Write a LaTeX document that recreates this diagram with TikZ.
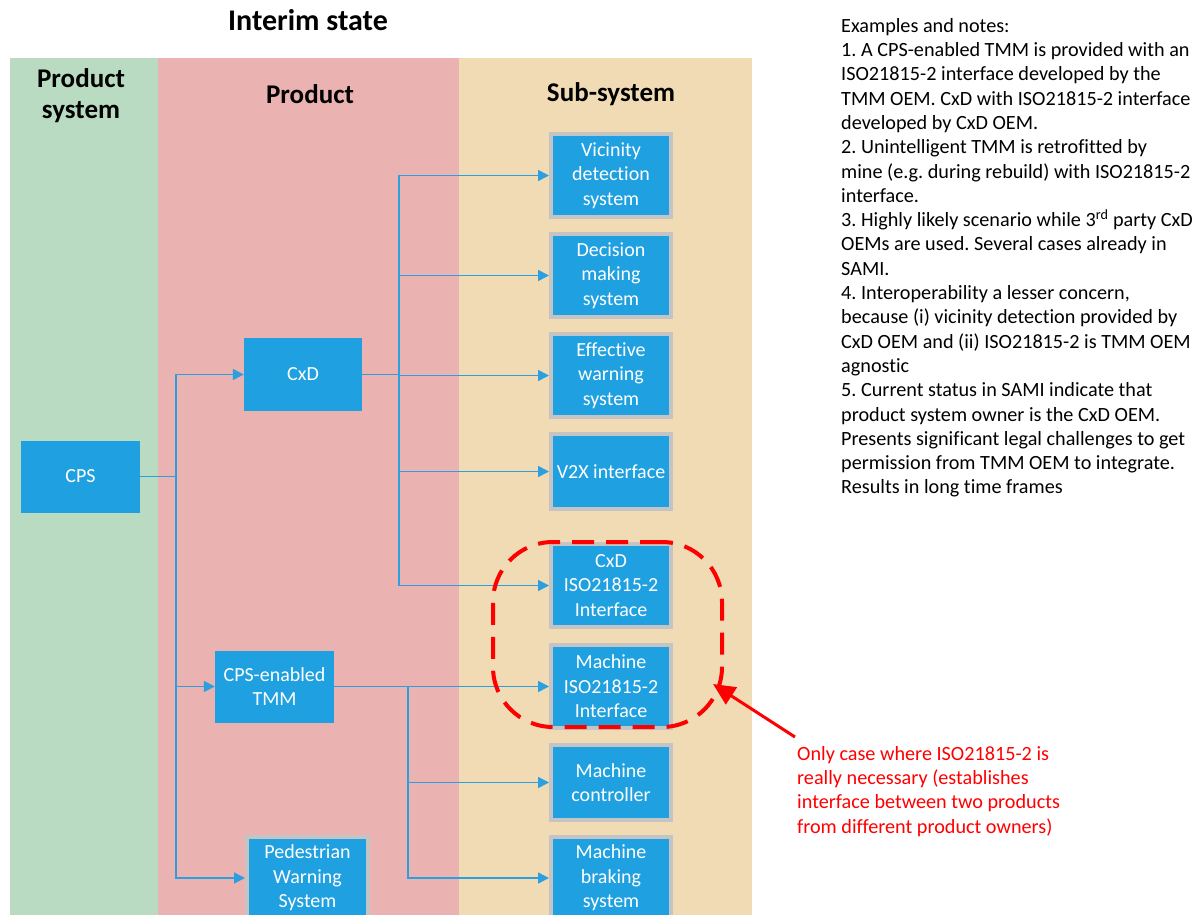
\documentclass[tikz,border=0pt]{standalone}
\usepackage{fontspec}
\setmainfont[Ligatures=NoCommon]{Carlito}
\usetikzlibrary{arrows.meta}
\definecolor{cgreen}{HTML}{B8DBC1}
\definecolor{cpink}{HTML}{EAB2B1}
\definecolor{ctan}{HTML}{F0DBB5}
\definecolor{cblue}{HTML}{1FA0E0}
\definecolor{cline}{HTML}{2C9FE0}
\definecolor{cgray}{HTML}{C4C4C4}
\definecolor{cred}{HTML}{FF0000}
\frenchspacing
\begin{document}
\begin{tikzpicture}[x=1pt,y=-1pt,
  hdr/.style={font=\bfseries\fontsize{27}{31}\selectfont, align=center, inner sep=0pt},
  box/.style={fill=cblue, text=white, align=center, inner sep=0pt,
     font=\fontsize{20}{24.4}\selectfont, minimum width=119, minimum height=72},
  sub/.style={box, draw=cgray, line width=4, minimum width=120, minimum height=83},
  conn/.style={draw=cline, line width=1.5},
  arr/.style={conn, -{Triangle[length=11pt,width=11pt]}},
  notes/.style={font=\fontsize{20.2}{24.3}\selectfont, align=left, inner sep=0pt, anchor=north west}
]
\clip (0,0) rectangle (1200,915);
\fill[white] (0,0) rectangle (1200,915);
% columns
\fill[cgreen] (10,58) rectangle (158,915);
\fill[cpink] (158,58) rectangle (459,915);
\fill[ctan] (459,58) rectangle (752,915);
% headers
\node[hdr, font=\bfseries\fontsize{30}{34}\selectfont] (title) at (308,20) {Interim state};
\node[hdr] (hps) at (81,95.5) {Product\\system};
\node[hdr] (hp) at (310,94) {Product};
\node[hdr] (hs) at (611,94) {Sub-system};
% product system / product boxes
\node[box] (cps) at (80.5,476.5) {CPS};
\node[box, minimum width=118, minimum height=73] (cxd) at (303,374.5) {CxD};
\node[box] (tmm) at (274.5,686.5) {CPS-enabled\\TMM};
\node[sub, minimum width=121] (ped) at (307.5,878) {Pedestrian\\Warning\\System};
% sub-system boxes
\node[sub] (vic) at (611,175.5) {Vicinity\\detection\\system};
\node[sub] (dec) at (611,275.5) {Decision\\making\\system};
\node[sub] (eff) at (611,375.5) {Effective\\warning\\system};
\node[sub, minimum height=75] (v2x) at (611,471.5) {V2X interface};
\node[sub] (ciso) at (611,585.5) {CxD\\ISO21815-2\\Interface};
\node[sub] (miso) at (611,686.5) {Machine\\ISO21815-2\\Interface};
\node[sub, minimum height=75] (mctl) at (611,782.5) {Machine\\controller};
\node[sub] (mbrk) at (611,878) {Machine\\braking\\system};
% connectors from CPS
\draw[conn] (cps.east) -- (176,476.5) coordinate (j1);
\draw[arr] (j1) |- (cxd.west);
\draw[arr] (j1) |- (tmm.west);
\draw[arr] (j1) |- (ped.west);
% connectors from CxD
\draw[conn] (cxd.east) -- (399,374.5) coordinate (j2);
\draw[arr] (j2) |- (vic.west);
\draw[arr] (j2) |- (dec.west);
\draw[arr] (j2) |- (eff.west);
\draw[arr] (j2) |- (v2x.west);
\draw[arr] (j2) |- (ciso.west);
% connectors from CPS-enabled TMM
\draw[arr] (tmm.east) -- (miso.west);
\coordinate (j3) at (408,686.5);
\draw[arr] (j3) |- (mctl.west);
\draw[arr] (j3) |- (mbrk.west);
% highlight
\node[draw=cred, line width=4, dash pattern=on 22pt off 12pt, rounded corners=60pt,
      minimum width=229, minimum height=185, inner sep=0pt] (hl) at (607.5,634.5) {};
\coordinate (rt) at (795,737);
\coordinate (rh) at (713,684);
\draw[cred, line width=3, -{Triangle[length=22pt,width=20pt]}] (rt) -- (rh);
\node[notes, text=cred] (rnote) at (797,746) {Only case where ISO21815-2 is\\really necessary (establishes\\interface between two products\\from different product owners)};
% notes
\node[notes] (notes) at (841,18) {Examples and notes:\\
1. A CPS-enabled TMM is provided with an\\
ISO21815-2 interface developed by the\\
TMM OEM. CxD with ISO21815-2 interface\\
developed by CxD OEM.\\
2. Unintelligent TMM is retrofitted by\\
mine (e.g. during rebuild) with ISO21815-2\\
interface.\\
3. Highly likely scenario while 3\textsuperscript{rd} party CxD\\
OEMs are used. Several cases already in\\
SAMI.\\
4. Interoperability a lesser concern,\\
because (i) vicinity detection provided by\\
CxD OEM and (ii) ISO21815-2 is TMM OEM\\
agnostic\\
5. Current status in SAMI indicate that\\
product system owner is the CxD OEM.\\
Presents significant legal challenges to get\\
permission from TMM OEM to integrate.\\
Results in long time frames};
\end{tikzpicture}
\end{document}
